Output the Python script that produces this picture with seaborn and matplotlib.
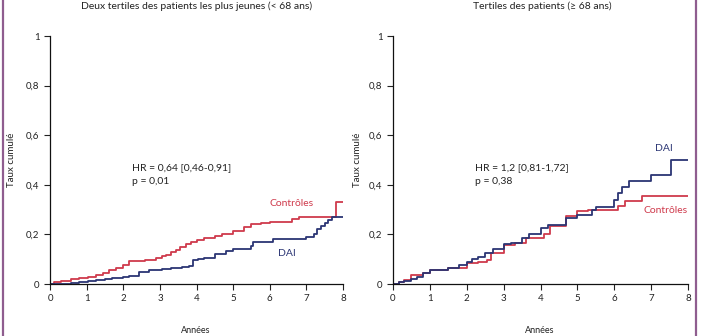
import matplotlib
matplotlib.use("Agg")
import matplotlib.pyplot as plt
import seaborn as sns
import pandas as pd
from matplotlib.lines import Line2D

# ---------------- data ----------------
left_title = "Deux tertiles des patients les plus jeunes (< 68 ans)"
right_title = "Tertiles des patients (≥ 68 ans)"
y_label = "Taux cumulé"
x_label = "Années"
series_names = ["Contrôles", "DAI"]
x_ticks = [0, 1, 2, 3, 4, 5, 6, 7, 8]
y_ticks = [0, 0.2, 0.4, 0.6, 0.8, 1]
y_tick_labels = ["0", "0,2", "0,4", "0,6", "0,8", "1"]

left_ctrl_t = [0, 0.1, 0.3, 0.57, 0.8, 1.03, 1.25, 1.45, 1.6, 1.8, 1.98, 2.16, 2.3, 2.6, 2.9,
               3.05, 3.16, 3.3, 3.43, 3.55, 3.7, 3.85, 4.0, 4.2, 4.5, 4.7, 5.0, 5.3, 5.5, 5.75,
               6.0, 6.3, 6.6, 6.8, 7.8, 8.0]
left_ctrl_y = [0, 0.008, 0.012, 0.02, 0.024, 0.028, 0.038, 0.045, 0.058, 0.065, 0.078, 0.091,
               0.092, 0.095, 0.105, 0.112, 0.118, 0.13, 0.138, 0.15, 0.163, 0.17, 0.176, 0.185,
               0.193, 0.2, 0.213, 0.228, 0.24, 0.245, 0.25, 0.252, 0.263, 0.272, 0.332, 0.332]

left_dai_t = [0, 0.57, 0.8, 1.03, 1.25, 1.5, 1.7, 2.0, 2.16, 2.44, 2.7, 3.07, 3.3, 3.6, 3.8,
              3.9, 4.05, 4.2, 4.5, 4.8, 5.0, 5.5, 5.55, 6.1, 7.0, 7.2, 7.3, 7.4, 7.5, 7.6, 7.7, 8.0]
left_dai_y = [0, 0.004, 0.008, 0.011, 0.018, 0.022, 0.026, 0.03, 0.034, 0.048, 0.058, 0.062,
              0.065, 0.07, 0.074, 0.096, 0.1, 0.105, 0.119, 0.132, 0.143, 0.153, 0.169, 0.18,
              0.19, 0.2, 0.22, 0.234, 0.247, 0.26, 0.272, 0.272]

right_ctrl_t = [0, 0.15, 0.3, 0.5, 0.8, 1.0, 1.5, 2.0, 2.3, 2.55, 2.65, 3.0, 3.3, 3.6, 4.1,
                4.25, 4.7, 5.0, 5.3, 6.1, 6.3, 6.75, 8.0]
right_ctrl_y = [0, 0.008, 0.015, 0.038, 0.045, 0.055, 0.063, 0.083, 0.09, 0.098, 0.125, 0.158,
                0.165, 0.186, 0.2, 0.233, 0.274, 0.294, 0.3, 0.314, 0.334, 0.355, 0.355]

right_dai_t = [0, 0.15, 0.3, 0.5, 0.65, 0.8, 1.0, 1.5, 1.8, 2.0, 2.15, 2.3, 2.5, 2.7, 3.0, 3.2,
               3.5, 3.7, 4.0, 4.2, 4.68, 5.0, 5.4, 5.5, 6.0, 6.1, 6.2, 6.4, 7.0, 7.55, 8.0]
right_dai_y = [0, 0.008, 0.013, 0.02, 0.03, 0.045, 0.055, 0.065, 0.075, 0.088, 0.1, 0.109, 0.125,
               0.14, 0.16, 0.165, 0.186, 0.2, 0.227, 0.238, 0.267, 0.28, 0.298, 0.31, 0.34, 0.366,
               0.392, 0.415, 0.44, 0.5, 0.5]

left_hr = ["HR = 0,64 [0,46-0,91]", "p = 0,01"]
right_hr = ["HR = 1,2 [0,81-1,72]", "p = 0,38"]

# ---------------- style ----------------
sns.set_theme(style="ticks")
plt.rcParams['font.family'] = ['Lato', 'DejaVu Sans']
RED = "#cf3a4c"
BLUE = "#2b3574"
PURPLE = "#8f5d8f"
TXT = "#222222"
palette = {"Contrôles": RED, "DAI": BLUE}

def frame(t, y, name):
    return pd.DataFrame({"t": t, "y": y, "groupe": name})

left_df = pd.concat([frame(left_ctrl_t, left_ctrl_y, "Contrôles"),
                     frame(left_dai_t, left_dai_y, "DAI")], ignore_index=True)
right_df = pd.concat([frame(right_ctrl_t, right_ctrl_y, "Contrôles"),
                      frame(right_dai_t, right_dai_y, "DAI")], ignore_index=True)

W, H = 702, 336
fig = plt.figure(figsize=(W / 100, H / 100), dpi=100)
fig.patch.set_facecolor("white")

def px_axes(x0, x1, ytop, ybot):
    return fig.add_axes([x0 / W, 1 - ybot / H, (x1 - x0) / W, (ybot - ytop) / H])

axL = px_axes(50, 343, 36, 284)
axR = px_axes(393, 688, 36, 284)

for ax, df in [(axL, left_df), (axR, right_df)]:
    sns.lineplot(data=df, x="t", y="y", hue="groupe", palette=palette, estimator=None,
                 sort=False, drawstyle="steps-post", linewidth=1.3, legend=False, ax=ax)
    ax.set_xlim(0, 8)
    ax.set_ylim(0, 1)
    ax.set_xticks(x_ticks)
    ax.set_xticklabels([str(v) for v in x_ticks])
    ax.set_yticks(y_ticks)
    ax.set_yticklabels(y_tick_labels)
    ax.tick_params(axis="both", direction="out", length=4.5, width=0.8, pad=3,
                   labelsize=7, colors=TXT)
    ax.set_xlabel("")
    ax.set_ylabel("")
    for s in ["top", "right"]:
        ax.spines[s].set_visible(False)
    for s in ["left", "bottom"]:
        ax.spines[s].set_linewidth(0.9)
        ax.spines[s].set_color("#111111")
    ax.set_facecolor("white")

# annotations
axL.text(2.24, 0.468, left_hr[0], fontsize=7.5, va="center", ha="left", color=TXT)
axL.text(2.24, 0.415, left_hr[1], fontsize=7.5, va="center", ha="left", color=TXT)
axR.text(2.22, 0.468, right_hr[0], fontsize=7.5, va="center", ha="left", color=TXT)
axR.text(2.22, 0.415, right_hr[1], fontsize=7.5, va="center", ha="left", color=TXT)

axL.text(7.21, 0.323, "Contrôles", fontsize=7.5, va="center", ha="right", color=RED)
axL.text(6.23, 0.125, "DAI", fontsize=7.5, va="center", ha="left", color=BLUE)
axR.text(8.0, 0.298, "Contrôles", fontsize=7.5, va="center", ha="right", color=RED)
axR.text(7.1, 0.548, "DAI", fontsize=7.5, va="center", ha="left", color=BLUE)

# titles at the very top edge
fig.text(197 / W, 1 - 1 / H, left_title, fontsize=7.5, ha="center", va="top", color=TXT)
fig.text(542 / W, 1 - 1 / H, right_title, fontsize=7.5, ha="center", va="top", color=TXT)

# y labels
fig.text(12 / W, 1 - 160 / H, y_label, fontsize=7, rotation=90, ha="center", va="center", color=TXT)
fig.text(357 / W, 1 - 160 / H, y_label, fontsize=7, rotation=90, ha="center", va="center", color=TXT)

# x labels (at the very bottom edge)
fig.text(196 / W, 1 / H, x_label, fontsize=6.5, ha="center", va="bottom", color=TXT)
fig.text(540 / W, 1 / H, x_label, fontsize=6.5, ha="center", va="bottom", color=TXT)

# purple frame lines
fig.add_artist(Line2D([3 / W, 3 / W], [0, 1], color=PURPLE, linewidth=1.6, transform=fig.transFigure))
fig.add_artist(Line2D([696 / W, 696 / W], [0, 1], color=PURPLE, linewidth=1.6, transform=fig.transFigure))

fig.savefig("out.png", dpi=100, facecolor="white")
